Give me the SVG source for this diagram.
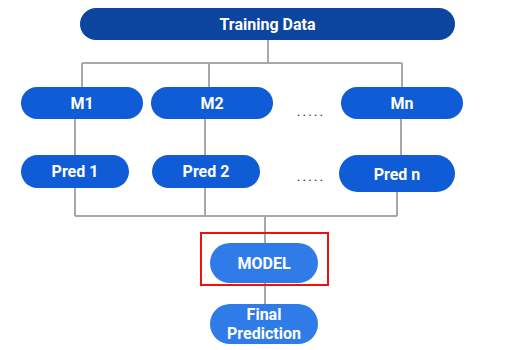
<svg xmlns="http://www.w3.org/2000/svg" width="517" height="350" viewBox="0 0 517 350">
  <style>
    .lbl { font-family: Roboto, "Liberation Sans", sans-serif; font-weight: bold; font-size: 16px; fill: #ffffff; text-anchor: middle; dominant-baseline: central; }
    .dots { font-family: Roboto, "Liberation Sans", sans-serif; font-size: 14px; fill: #333333; text-anchor: middle; letter-spacing: 2px; }
    .wire { fill: none; stroke: #a8a8a8; stroke-width: 2; }
    .dark { fill: #0b45a0; }
    .mid { fill: #0f5cd6; }
    .light { fill: #2f7ce8; }
  </style>

  <g id="connectors">
    <path class="wire" d="M268 40 V63 M82 63 H402 M82 63 V87 M209 63 V87 M402 63 V87"/>
    <path class="wire" d="M75 119 V155 M205 119 V155 M401 119 V155"/>
    <path class="wire" d="M75 188 V216 M205 188 V216 M397 192 V216 M75 216 H397 M265 216 V243"/>
    <path class="wire" d="M265 283 V304"/>
  </g>

  <g id="training-data">
    <rect class="dark" x="80" y="8" width="375" height="32" rx="16"/>
    <text class="lbl" x="267.5" y="24">Training Data</text>
  </g>

  <g id="m1">
    <rect class="mid" x="21" y="87" width="122" height="32" rx="16"/>
    <text class="lbl" x="82" y="103">M1</text>
  </g>
  <g id="m2">
    <rect class="mid" x="151" y="87" width="122" height="32" rx="16"/>
    <text class="lbl" x="212" y="103">M2</text>
  </g>
  <g id="mn">
    <rect class="mid" x="341" y="87" width="122" height="32" rx="16"/>
    <text class="lbl" x="402" y="103">Mn</text>
  </g>
  <text class="dots" x="311" y="116">.....</text>

  <g id="pred1">
    <rect class="mid" x="21" y="155" width="108" height="33" rx="16.5"/>
    <text class="lbl" x="75" y="171.5">Pred 1</text>
  </g>
  <g id="pred2">
    <rect class="mid" x="152" y="155" width="108" height="33" rx="16.5"/>
    <text class="lbl" x="206" y="171.5">Pred 2</text>
  </g>
  <g id="predn">
    <rect class="mid" x="339" y="155" width="116" height="37" rx="18.5"/>
    <text class="lbl" x="397" y="174">Pred n</text>
  </g>
  <text class="dots" x="311" y="181">.....</text>

  <g id="model">
    <rect x="201" y="233" width="127" height="52" fill="none" stroke="#ee1111" stroke-width="2"/>
    <rect class="light" x="210" y="243" width="108" height="40" rx="20"/>
    <text class="lbl" x="264" y="263">MODEL</text>
  </g>

  <g id="final-prediction">
    <rect class="light" x="210" y="304" width="108" height="40" rx="20"/>
    <text class="lbl" x="264" y="314.5">Final</text>
    <text class="lbl" x="264" y="333">Prediction</text>
  </g>
</svg>
